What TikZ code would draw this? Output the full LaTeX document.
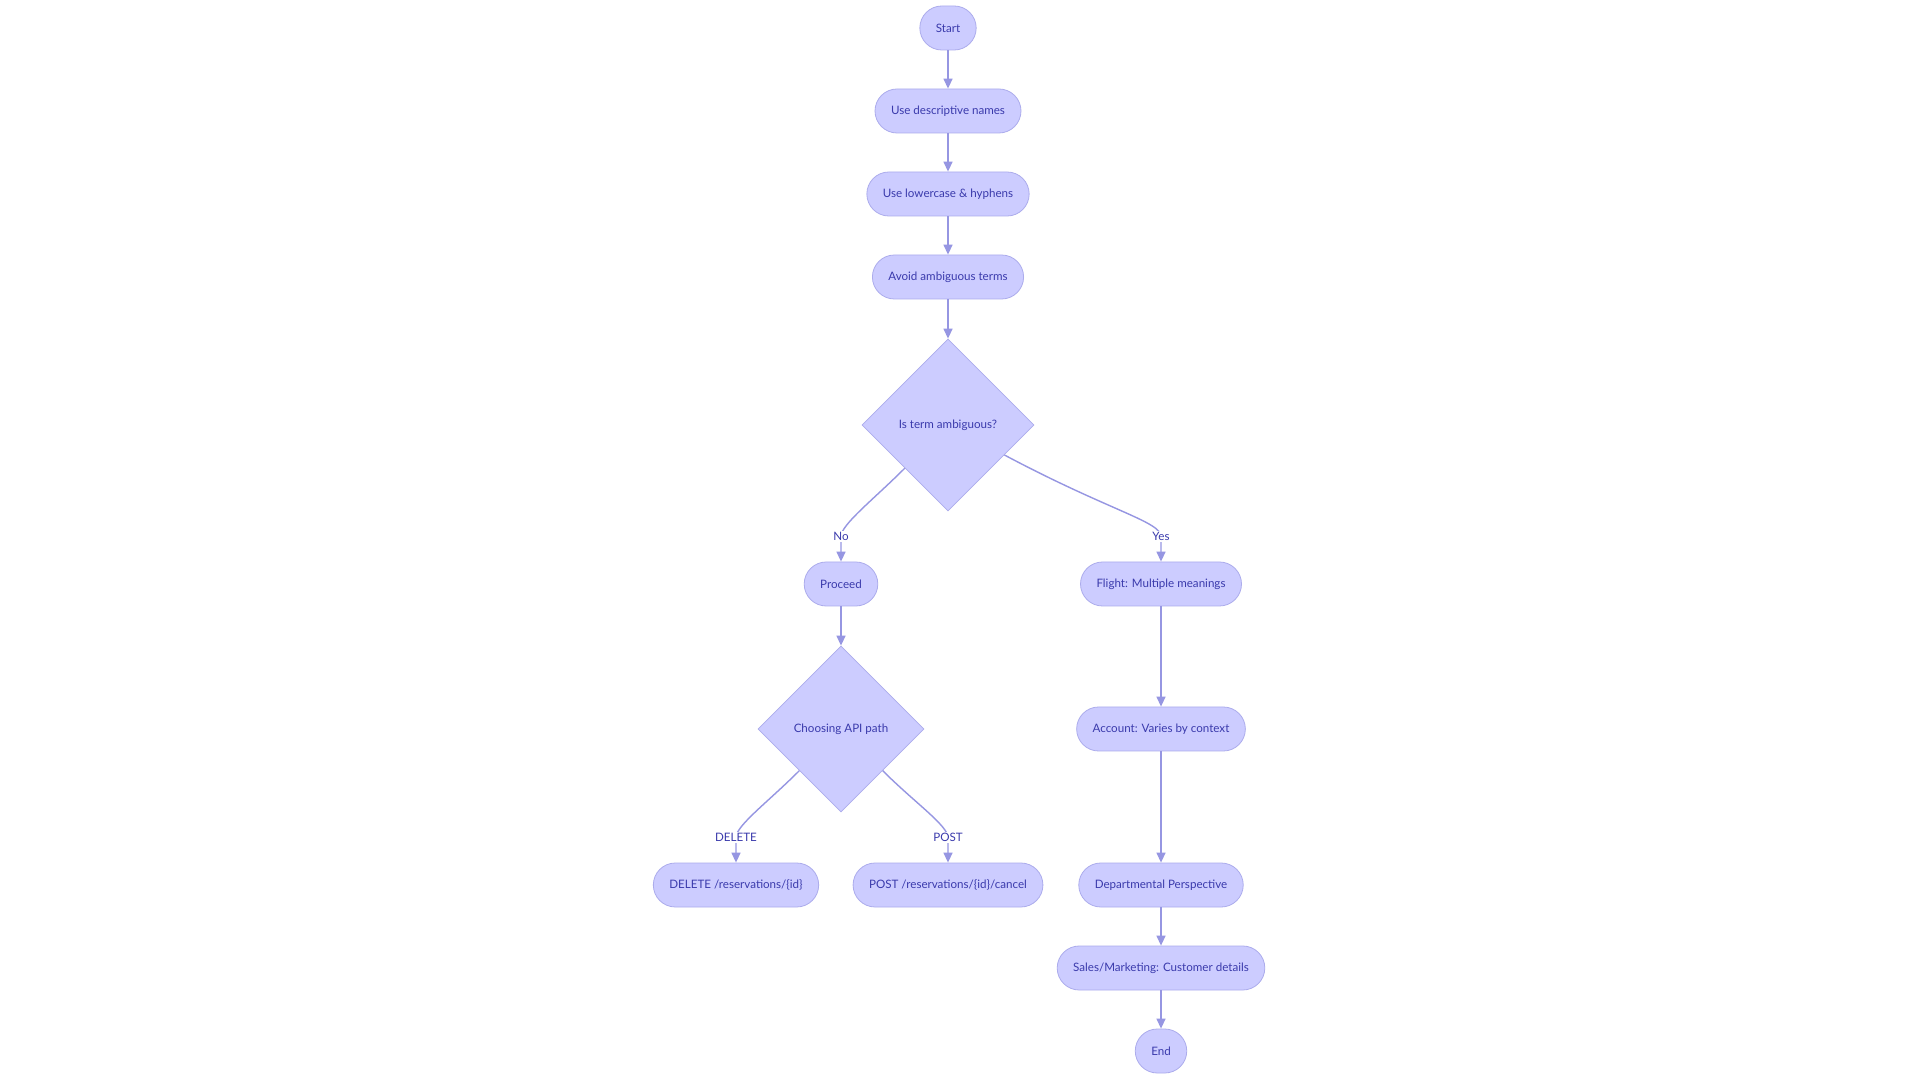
\documentclass[tikz,border=0pt]{standalone}
\usepackage{fontspec}
\setmainfont{Lato}
\usepackage{tikz}
\usetikzlibrary{shapes.geometric, arrows.meta}
\definecolor{nodefill}{RGB}{204,204,255}
\definecolor{nodedraw}{RGB}{172,172,236}
\definecolor{edgecol}{RGB}{150,150,226}
\definecolor{txtblue}{RGB}{58,58,172}
\tikzset{
  pill/.style={rectangle, draw=nodedraw, fill=nodefill,
    minimum height=44pt, inner xsep=16pt, rounded corners=22pt,
    font=\fontsize{11.6}{14}\selectfont, text=txtblue, line width=0.8pt},
  choice/.style={diamond, aspect=1, draw=nodedraw, fill=nodefill,
    inner sep=0pt, font=\fontsize{11.6}{14}\selectfont, text=txtblue,
    line width=0.8pt},
  arrow/.style={-{Triangle[length=10pt,width=9pt]}, line width=1.4pt, color=edgecol},
  lbl/.style={fill=white, inner sep=1.5pt, font=\fontsize{11.6}{14}\selectfont, text=txtblue}
}
\begin{document}
\begin{tikzpicture}[x=1pt, y=1pt]
  % canvas
  \path[fill=white] (0,0) rectangle (1920,1080);
  \useasboundingbox (0,0) rectangle (1920,1080);

  % main column
  \node[pill] (start) at (948, 1052) {Start};
  \node[pill] (names) at (948, 969) {Use descriptive names};
  \node[pill] (lower) at (948, 886) {Use lowercase \& hyphens};
  \node[pill] (avoid) at (948, 803) {Avoid ambiguous terms};
  \node[choice, minimum size=172pt] (ambig) at (948, 655) {Is term ambiguous?};

  % left branch
  \node[pill] (proceed) at (841, 496) {Proceed};
  \node[choice, minimum size=166pt] (apipath) at (841, 351) {Choosing API path};
  \node[pill] (delete) at (736, 195) {DELETE /reservations/\{id\}};
  \node[pill] (post) at (948, 195) {POST /reservations/\{id\}/cancel};

  % right branch
  \node[pill] (flight) at (1161, 496) {Flight: Multiple meanings};
  \node[pill] (account) at (1161, 351) {Account: Varies by context};
  \node[pill] (dept) at (1161, 195) {Departmental Perspective};
  \node[pill] (sales) at (1161, 112) {Sales/Marketing: Customer details};
  \node[pill] (end) at (1161, 29) {End};

  % connectors
  \draw[arrow] (start) -- (names);
  \draw[arrow] (names) -- (lower);
  \draw[arrow] (lower) -- (avoid);
  \draw[arrow] (avoid) -- (ambig.north);
  \draw[arrow] (ambig.south west) .. controls +(-135:45) and +(0,12) .. ([yshift=25pt]proceed.north)
    node[lbl] {No} -- (proceed.north);
  \draw[arrow] (ambig.-28) .. controls +(-28:120) and +(0,15) .. ([yshift=25pt]flight.north)
    node[lbl] {Yes} -- (flight.north);
  \draw[arrow] (proceed) -- (apipath.north);
  \draw[arrow] (apipath.south west) .. controls +(-135:45) and +(0,12) .. ([yshift=25pt]delete.north)
    node[lbl] {DELETE} -- (delete.north);
  \draw[arrow] (apipath.south east) .. controls +(-45:45) and +(0,12) .. ([yshift=25pt]post.north)
    node[lbl] {POST} -- (post.north);
  \draw[arrow] (flight) -- (account);
  \draw[arrow] (account) -- (dept);
  \draw[arrow] (dept) -- (sales);
  \draw[arrow] (sales) -- (end);
\end{tikzpicture}
\end{document}
